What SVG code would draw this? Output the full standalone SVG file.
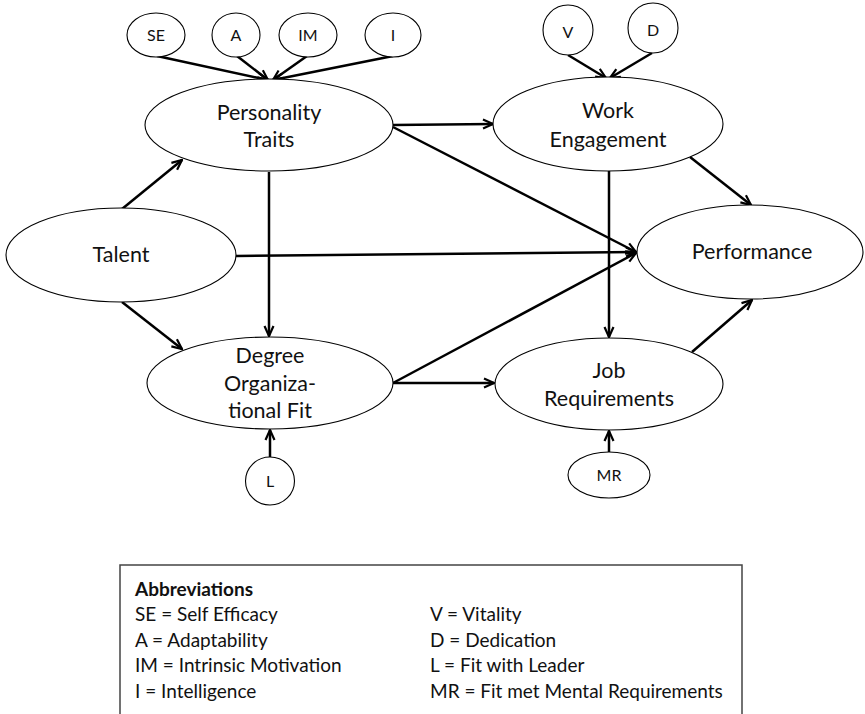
<svg xmlns="http://www.w3.org/2000/svg" width="865" height="714" viewBox="0 0 865 714">
  <defs>
    <marker id="arrow" viewBox="0 0 12 12" refX="11" refY="6" markerWidth="12" markerHeight="12" markerUnits="userSpaceOnUse" orient="auto">
      <path d="M1,1.5 L11,6 L1,10.5" fill="none" stroke="#000" stroke-width="2.2"/>
    </marker>
    <style>
      .node ellipse { fill: #fff; stroke: #000; stroke-width: 1.1; }
      .label { font-family: "Lato", "Liberation Sans", sans-serif; font-size: 21.5px; fill: #111; text-anchor: middle; }
      .small { font-family: "Lato", "Liberation Sans", sans-serif; font-size: 16px; fill: #111; text-anchor: middle; }
      .conn line { stroke: #000; stroke-width: 2.5; marker-end: url(#arrow); }
      .legend text { font-family: "Lato", "Liberation Sans", sans-serif; font-size: 19px; fill: #111; }
    </style>
  </defs>

  <rect width="865" height="714" fill="#fff"/>

  <!-- connectors -->
  <g id="connectors" class="conn">
    <line x1="157" y1="56" x2="268" y2="80"/>
    <line x1="237" y1="56" x2="268" y2="80"/>
    <line x1="307" y1="56" x2="273" y2="80"/>
    <line x1="393" y1="56" x2="273" y2="80"/>
    <line x1="568" y1="55" x2="606" y2="78"/>
    <line x1="652" y1="53" x2="610" y2="78"/>
    <line x1="122" y1="209" x2="182" y2="160"/>
    <line x1="122" y1="302" x2="182" y2="349"/>
    <line x1="269" y1="172" x2="269" y2="336"/>
    <line x1="236" y1="256" x2="636" y2="252"/>
    <line x1="393" y1="125" x2="493" y2="124"/>
    <line x1="393" y1="127" x2="636" y2="252"/>
    <line x1="393" y1="383" x2="636" y2="253"/>
    <line x1="393" y1="383" x2="494" y2="383"/>
    <line x1="609" y1="171" x2="609" y2="337"/>
    <line x1="690" y1="157" x2="751" y2="205"/>
    <line x1="692" y1="352" x2="752" y2="300"/>
    <line x1="270" y1="457" x2="270" y2="430"/>
    <line x1="609" y1="452" x2="609" y2="431"/>
  </g>

  <!-- indicator nodes -->
  <g id="node-se" class="node"><ellipse cx="156" cy="35" rx="29" ry="22"/><text class="small" x="156" y="41">SE</text></g>
  <g id="node-a" class="node"><ellipse cx="236" cy="35" rx="24" ry="22"/><text class="small" x="236" y="41">A</text></g>
  <g id="node-im" class="node"><ellipse cx="308" cy="35" rx="29" ry="22"/><text class="small" x="308" y="41">IM</text></g>
  <g id="node-i" class="node"><ellipse cx="393" cy="35" rx="28" ry="22"/><text class="small" x="393" y="41">I</text></g>
  <g id="node-v" class="node"><ellipse cx="568" cy="30" rx="25" ry="25"/><text class="small" x="568" y="38">V</text></g>
  <g id="node-d" class="node"><ellipse cx="653" cy="28" rx="25" ry="25"/><text class="small" x="653" y="36">D</text></g>
  <g id="node-l" class="node"><ellipse cx="270" cy="481" rx="24.5" ry="24"/><text class="small" x="270" y="487">L</text></g>
  <g id="node-mr" class="node"><ellipse cx="609" cy="475" rx="41" ry="23"/><text class="small" x="609" y="481">MR</text></g>

  <!-- construct nodes -->
  <g id="node-personality" class="node">
    <ellipse cx="269" cy="125" rx="124" ry="46"/>
    <text class="label" x="269" y="120">Personality</text>
    <text class="label" x="269" y="147">Traits</text>
  </g>
  <g id="node-engagement" class="node">
    <ellipse cx="608" cy="124" rx="115" ry="47"/>
    <text class="label" x="608" y="118">Work</text>
    <text class="label" x="608" y="147">Engagement</text>
  </g>
  <g id="node-talent" class="node">
    <ellipse cx="121" cy="255" rx="115" ry="47"/>
    <text class="label" x="121" y="262">Talent</text>
  </g>
  <g id="node-performance" class="node">
    <ellipse cx="750" cy="252" rx="113" ry="47"/>
    <text class="label" x="752" y="259">Performance</text>
  </g>
  <g id="node-fit" class="node">
    <ellipse cx="270" cy="383" rx="123" ry="46"/>
    <text class="label" x="270" y="363">Degree</text>
    <text class="label" x="270" y="391">Organiza-</text>
    <text class="label" x="270" y="418">tional Fit</text>
  </g>
  <g id="node-job" class="node">
    <ellipse cx="609" cy="384" rx="114" ry="46"/>
    <text class="label" x="609" y="378">Job</text>
    <text class="label" x="609" y="406">Requirements</text>
  </g>

  <!-- abbreviations legend -->
  <g id="legend" class="legend">
    <path d="M120,716 L120,565 L742,565 L742,716" fill="none" stroke="#444" stroke-width="1.5"/>
    <text x="135" y="596" font-weight="bold">Abbreviations</text>
    <text x="135" y="621">SE = Self Efficacy</text>
    <text x="135" y="646.5">A = Adaptability</text>
    <text x="135" y="672">IM = Intrinsic Motivation</text>
    <text x="135" y="697.5">I = Intelligence</text>
    <text x="430" y="621">V = Vitality</text>
    <text x="430" y="646.5">D = Dedication</text>
    <text x="430" y="672">L = Fit with Leader</text>
    <text x="430" y="697.5">MR = Fit met Mental Requirements</text>
  </g>
</svg>
